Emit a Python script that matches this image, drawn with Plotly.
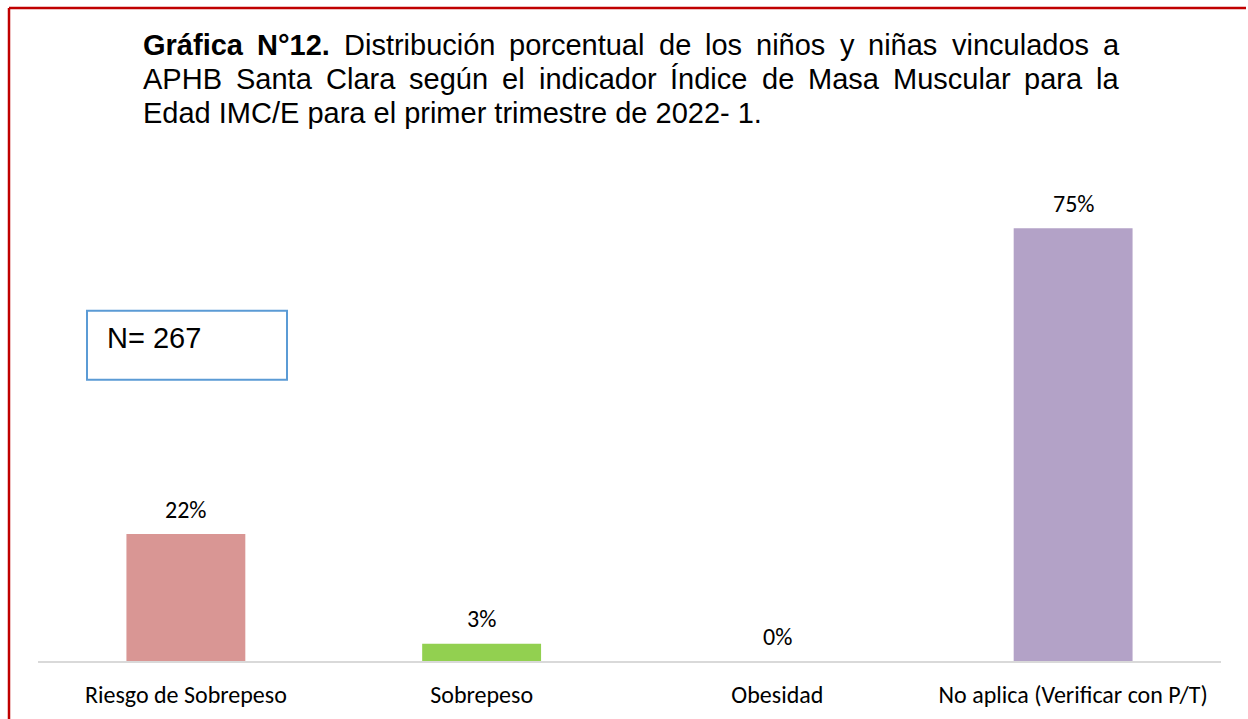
import plotly.graph_objects as go

# ---------------- data ----------------
categories = ["Riesgo de Sobrepeso", "Sobrepeso", "Obesidad", "No aplica (Verificar con P/T)"]
values = [22, 3, 0, 75]
value_labels = ["22%", "3%", "0%", "75%"]
bar_colors = ["#D99694", "#92D050", "#8064A2", "#B3A2C7"]

title_line1 = [("Gráfica", True), ("N°12.", True), ("Distribución", False), ("porcentual", False),
               ("de", False), ("los", False), ("niños", False), ("y", False), ("niñas", False),
               ("vinculados", False), ("a", False)]
title_line2 = ["APHB", "Santa", "Clara", "según", "el", "indicador", "Índice", "de", "Masa",
               "Muscular", "para", "la"]
title_line3 = "Edad IMC/E para el primer trimestre de 2022- 1."
n_text = "N= 267"

# ---------------- layout helpers ----------------
W, H = 1248, 719
PL, PR, PT, PB = 38, 1221, 180, 661.5          # plot area in pixels
PX_PER_UNIT = (661.5 - 228.3) / 75.0
YMAX = (PB - PT) / PX_PER_UNIT


def px(x):
    return (x - PL) / (PR - PL)


def py(y):
    return (PB - y) / (PB - PT)


# Arial (Liberation Sans) advance widths, 1/1000 em
REG = {' ': 278, 'A': 667, 'B': 667, 'C': 722, 'D': 722, 'E': 667, 'H': 722, 'I': 278, 'M': 833,
       'N': 722, 'P': 667, 'S': 667, 'Í': 278, 'a': 556, 'b': 556, 'c': 500, 'd': 556, 'e': 556,
       'g': 556, 'i': 222, 'l': 222, 'n': 556, 'ñ': 556, 'o': 556, 'ó': 556, 'p': 556, 'r': 333,
       's': 500, 't': 278, 'u': 556, 'ú': 556, 'v': 500, 'y': 500, '/': 278, '-': 333, '.': 278,
       '°': 400}
BOLD = {'G': 778, 'r': 389, 'á': 556, 'f': 333, 'i': 278, 'c': 556, 'a': 556, 'N': 722,
        '°': 400, '1': 556, '2': 556, '.': 278}
for d in '0123456789':
    REG[d] = 556

TFS = 29
TFONT = "Liberation Sans, Arial, sans-serif"
TX0, TX1 = 142, 1118


def word_w(w, bold):
    tab = BOLD if bold else REG
    return sum(tab.get(c, 556) for c in w) / 1000.0 * TFS


annotations = []


def justified(words, ycen):
    ws = [word_w(w, b) for w, b in words]
    gap = (TX1 - TX0 - sum(ws)) / (len(words) - 1)
    x = TX0
    for (w, b), wd in zip(words, ws):
        annotations.append(dict(
            x=px(x), y=py(ycen), xref="paper", yref="paper", xanchor="left", yanchor="middle",
            text=f"<b>{w}</b>" if b else w, showarrow=False, borderpad=0,
            font=dict(family=TFONT, size=TFS, color="#000000")))
        x += wd + gap


LINE_Y = [45, 79, 113]
justified(title_line1, LINE_Y[0])
justified([(w, False) for w in title_line2], LINE_Y[1])
annotations.append(dict(
    x=px(TX0), y=py(LINE_Y[2]), xref="paper", yref="paper", xanchor="left", yanchor="middle",
    text=title_line3, showarrow=False, borderpad=0,
    font=dict(family=TFONT, size=TFS, color="#000000")))

# N box text
annotations.append(dict(
    x=px(106), y=py(338), xref="paper", yref="paper", xanchor="left", yanchor="middle",
    text=n_text, showarrow=False, borderpad=0,
    font=dict(family=TFONT, size=TFS, color="#000000")))

LFONT = "Carlito, Calibri, Lato, sans-serif"
LFS = 24

# value labels
for c, v, t in zip(categories, values, value_labels):
    annotations.append(dict(
        x=c, y=v, xref="x", yref="y", xanchor="center", yanchor="middle", yshift=25,
        text=t, showarrow=False, font=dict(family=LFONT, size=LFS, color="#000000")))

fig = go.Figure(go.Bar(
    x=categories, y=values, marker=dict(color=bar_colors, line=dict(width=0)),
    hoverinfo="skip"))

shapes = [
    # red frame (left and top edges)
    dict(type="line", xref="paper", yref="paper", x0=px(9), x1=px(9), y0=py(7.8), y1=py(H + 5),
         line=dict(color="#C00000", width=2.5)),
    dict(type="line", xref="paper", yref="paper", x0=px(9), x1=px(1246), y0=py(7.8), y1=py(7.8),
         line=dict(color="#C00000", width=2.5)),
    # N box
    dict(type="rect", xref="paper", yref="paper", x0=px(87), x1=px(287), y0=py(311), y1=py(380),
         line=dict(color="#5B9BD5", width=2), fillcolor="rgba(0,0,0,0)"),
]

fig.update_layout(
    width=W, height=H,
    margin=dict(l=PL, r=W - PR, t=PT, b=H - PB, autoexpand=False),
    paper_bgcolor="#FFFFFF", plot_bgcolor="#FFFFFF",
    bargap=0.598, showlegend=False,
    xaxis=dict(showline=True, linecolor="#D9D9D9", linewidth=2, ticks="", showgrid=False,
               tickfont=dict(family=LFONT, size=LFS, color="#000000"), ticklabelstandoff=11,
               fixedrange=True),
    yaxis=dict(range=[0, YMAX], visible=False, showgrid=False, zeroline=False, fixedrange=True),
    annotations=annotations, shapes=shapes,
)

fig.write_html(
    "out.html",
    config={"displayModeBar": False},
    post_script="document.body.style.margin='0';document.body.style.overflow='hidden';",
)
